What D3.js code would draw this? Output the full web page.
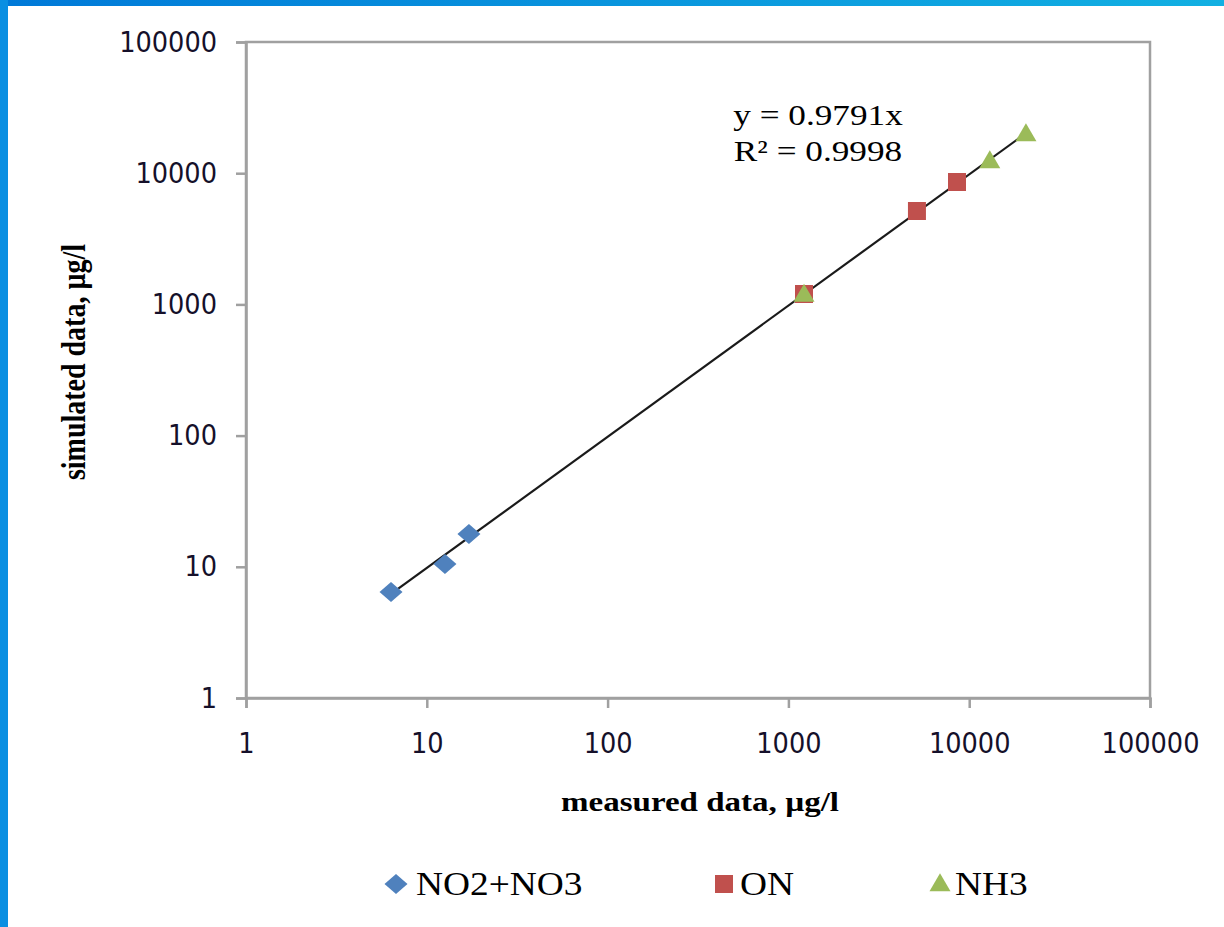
<!DOCTYPE html>
<html><head><meta charset="utf-8">
<script src="https://cdn.jsdelivr.net/npm/d3@7"></script>
<style>body{margin:0;background:#fff}svg{display:block}</style>
</head><body>
<svg id="c" width="1224" height="927"></svg>
<script>
const xTicks = [1, 10, 100, 1000, 10000, 100000];
const yTicks = [1, 10, 100, 1000, 10000, 100000];
const no2no3 = [[6.34, 6.43], [12.6, 10.5], [17.1, 17.8]];
const onData = [[1220, 1200], [5140, 5150], [8560, 8570]];
const nh3 = [[1220, 1190], [13000, 12400], [20600, 19900]];
const seriesNames = ["NO2+NO3", "ON", "NH3"];
const slope = 0.9791;
const eqText = ["y = 0.9791x", "R² = 0.9998"];

const svg = d3.select("#c");
// blue frame
const defs = svg.append("defs");
const g1 = defs.append("linearGradient").attr("id","tg").attr("x1","0").attr("x2","1");
g1.append("stop").attr("offset","0").attr("stop-color","#0079d8");
g1.append("stop").attr("offset","1").attr("stop-color","#12b0e2");
svg.append("rect").attr("x",0).attr("y",0).attr("width",1224).attr("height",6).attr("fill","url(#tg)");
svg.append("rect").attr("x",0).attr("y",0).attr("width",8).attr("height",927).attr("fill","#0a8fe2");

const L=246, R=1150, T=42, B=698;
const x = d3.scaleLog().domain([1,100000]).range([L,R]);
const y = d3.scaleLog().domain([1,100000]).range([B,T]);

const axisColor = "#a0a0a0";
svg.append("rect").attr("x",L).attr("y",T).attr("width",R-L).attr("height",B-T)
  .attr("fill","none").attr("stroke",axisColor).attr("stroke-width",2.5);

const xa = svg.append("g").attr("transform",`translate(0,${B})`)
  .call(d3.axisBottom(x).tickValues(xTicks).tickFormat(d3.format("d")).tickSize(10).tickPadding(25));
const ya = svg.append("g").attr("transform",`translate(${L},0)`)
  .call(d3.axisLeft(y).tickValues(yTicks).tickFormat(d3.format("d")).tickSize(10).tickPadding(19));
[xa, ya].forEach(a=>{
  a.select(".domain").attr("stroke",axisColor).attr("stroke-width",2.5);
  a.selectAll(".tick line").attr("stroke",axisColor).attr("stroke-width",2.5);
  a.selectAll(".tick text").attr("fill","#15102a")
    .style("font-family","'DejaVu Sans Condensed','DejaVu Sans'").style("font-stretch","condensed")
    .style("font-size","28.5px");
});

// trendline
const xs = d3.extent([...no2no3, ...onData, ...nh3].map(d=>d[0]));
svg.append("line").attr("x1",x(xs[0])).attr("y1",y(slope*xs[0]))
  .attr("x2",x(xs[1])).attr("y2",y(slope*xs[1]))
  .attr("stroke","#1a1a1a").attr("stroke-width",2.2);

// marker shapes
const diamond = (w,h)=>`M0,${-h/2}L${w/2},0L0,${h/2}L${-w/2},0Z`;
const square = (s)=>`M${-s/2},${-s/2}h${s}v${s}h${-s}Z`;
const tri = (w,h)=>`M0,${-h*0.6}L${w/2},${h*0.4}L${-w/2},${h*0.4}Z`;
const shapes = [diamond(23,20), square(18), tri(21,18)];
const colors = ["#4f81bd", "#c0504d", "#9bbb59"];
const allSeries = [no2no3, onData, nh3];
allSeries.forEach((data,i)=>{
  svg.append("g").selectAll("path").data(data).join("path")
    .attr("d", shapes[i]).attr("fill", colors[i])
    .attr("transform", d=>`translate(${x(d[0])},${y(d[1])})`);
});

// equation
const serif = "'Liberation Serif','Times New Roman',serif";
eqText.forEach((t,i)=>{
  svg.append("text").attr("transform",`translate(818,${125+i*36}) scale(1.19,1)`)
    .attr("text-anchor","middle").style("font-family",serif).style("font-size","29.6px")
    .attr("fill","#000").text(t);
});

// axis titles
svg.append("text").attr("transform","translate(700,811) scale(1.18,1)").attr("text-anchor","middle")
  .style("font-family",serif).style("font-weight","bold").style("font-size","28px")
  .text("measured data, µg/l");
svg.append("text").attr("transform","translate(85,362) scale(1.18,1) rotate(-90)").attr("text-anchor","middle")
  .style("font-family",serif).style("font-weight","bold").style("font-size","28px")
  .text("simulated data, µg/l");

// legend
const leg = [
  {mx:396, tx:416},
  {mx:724, tx:740},
  {mx:940, tx:955}
];
leg.forEach((l,i)=>{
  svg.append("path").attr("d", shapes[i]).attr("fill", colors[i]).attr("transform",`translate(${l.mx},884)`);
  svg.append("text").attr("transform",`translate(${l.tx},895) scale(1.14,1)`)
    .style("font-family",serif).style("font-size","32.8px").attr("fill","#000").text(seriesNames[i]);
});
</script>
</body></html>
